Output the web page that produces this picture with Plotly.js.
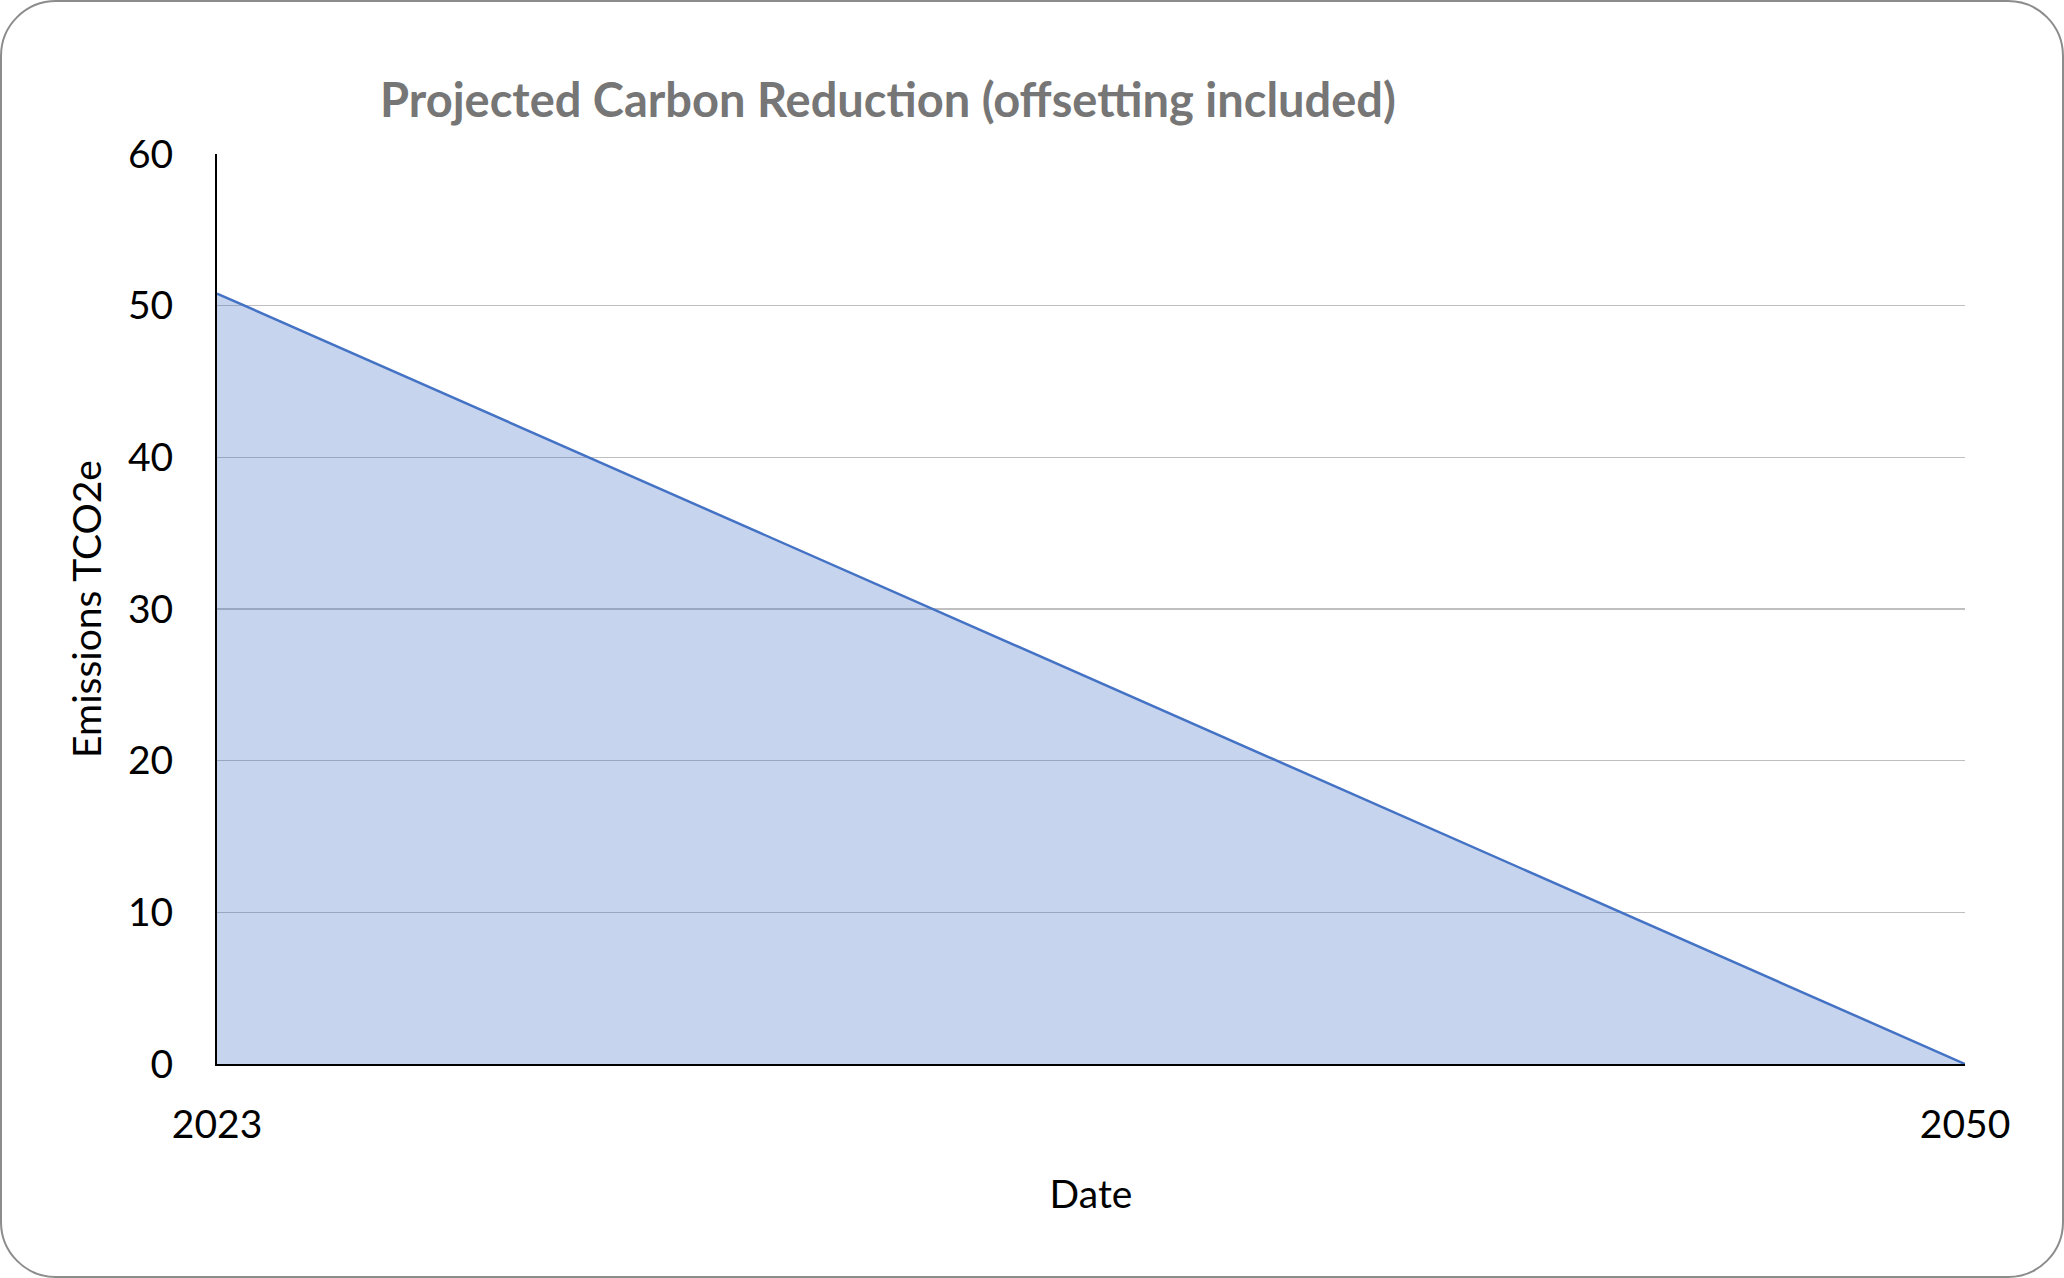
<!DOCTYPE html>
<html>
<head>
<meta charset="utf-8">
<script src="https://cdn.plot.ly/plotly-3.0.1.min.js"></script>
<style>
  html, body { margin: 0; padding: 0; background: #ffffff; }
  #frame { position: absolute; left: 0; top: 0; width: 2064px; height: 1278px; box-sizing: border-box;
           border: 2px solid #8c8c8c; border-radius: 56px; overflow: hidden; background: #ffffff; }
  #chart { position: absolute; left: -2px; top: -2px; width: 2064px; height: 1278px; }
</style>
</head>
<body>
<div id="frame"><div id="chart"></div></div>
<script>
// Data
const years = [2023, 2050];
const emissions = [50.8, 0];
const xTickLabels = ['2023', '2050'];
const yTicks = [0, 10, 20, 30, 40, 50, 60];

const font = 'Lato, "Open Sans", "DejaVu Sans", sans-serif';

const trace = {
  x: years,
  y: emissions,
  type: 'scatter',
  mode: 'lines',
  fill: 'tozeroy',
  fillcolor: 'rgba(68,114,196,0.30)',
  line: { color: '#4472C4', width: 2.5 },
  hoverinfo: 'x+y'
};

const layout = {
  width: 2064,
  height: 1278,
  paper_bgcolor: 'rgba(0,0,0,0)',
  plot_bgcolor: '#ffffff',
  margin: { l: 217, r: 99, t: 154, b: 214, pad: 0 },
  showlegend: false,
  title: {
    text: '<b>Projected Carbon Reduction (offsetting included)</b>',
    font: { family: font, size: 47, color: '#767676' },
    x: 888 / 2064, xanchor: 'center', xref: 'container',
    y: 1 - 101 / 1278, yanchor: 'middle', yref: 'container'
  },
  xaxis: {
    type: 'linear',
    range: [years[0], years[years.length - 1]],
    tickmode: 'array',
    tickvals: years,
    ticktext: xTickLabels,
    showgrid: false,
    zeroline: false,
    showline: true,
    linecolor: '#000000',
    linewidth: 2,
    ticks: '',
    ticklabelstandoff: 25,
    tickfont: { family: font, size: 39, color: '#000000' },
    title: { text: 'Date', font: { family: font, size: 39, color: '#000000' }, standoff: 36 },
    automargin: false,
    fixedrange: true
  },
  yaxis: {
    range: [0, 60],
    tickmode: 'array',
    tickvals: yTicks,
    showgrid: true,
    gridcolor: '#BFBFBF',
    gridwidth: 1.5,
    zeroline: false,
    showline: true,
    linecolor: '#000000',
    linewidth: 2,
    ticks: '',
    ticklabelstandoff: 34,
    tickfont: { family: font, size: 39, color: '#000000' },
    title: { text: 'Emissions TCO2e', font: { family: font, size: 39, color: '#000000' }, standoff: 14 },
    automargin: false,
    fixedrange: true
  }
};

Plotly.newPlot('chart', [trace], layout, { displayModeBar: false, staticPlot: true });
</script>
</body>
</html>
